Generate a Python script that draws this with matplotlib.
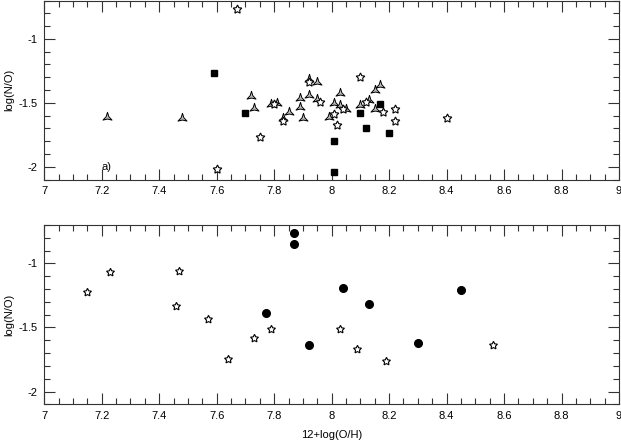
#!/usr/bin/env python
"""Plot log(N/O) versus 12+log(O/H) for two samples."""
import numpy as np
import matplotlib
matplotlib.use("Agg")
import matplotlib.pyplot as plt
from matplotlib.path import Path
from matplotlib.ticker import MultipleLocator

# panel a) data
sq_oh = [7.59, 7.70, 8.01, 8.01, 8.10, 8.12, 8.17, 8.20]
sq_no = [-1.27, -1.58, -1.80, -2.04, -1.58, -1.70, -1.51, -1.74]

star_a_oh = [7.67, 7.60, 7.75, 7.80, 7.83, 7.92, 7.96, 8.01, 8.02, 8.04,
             8.10, 8.12, 8.18, 8.22, 8.22, 8.40]
star_a_no = [-0.77, -2.02, -1.77, -1.51, -1.64, -1.34, -1.49, -1.59, -1.67,
             -1.55, -1.30, -1.49, -1.57, -1.55, -1.64, -1.62]

tri_oh = [7.22, 7.48, 7.72, 7.73, 7.79, 7.81, 7.85, 7.83, 7.89, 7.89, 7.90,
          7.92, 7.95, 7.92, 7.95, 8.01, 7.99, 8.03, 8.03, 8.05, 8.10, 8.13,
          8.15, 8.17, 8.15]
tri_no = [-1.61, -1.62, -1.45, -1.54, -1.51, -1.50, -1.57, -1.62, -1.46,
          -1.53, -1.62, -1.31, -1.34, -1.44, -1.47, -1.50, -1.61, -1.42,
          -1.52, -1.55, -1.52, -1.48, -1.40, -1.36, -1.55]

# panel b) data
circ_oh = [7.87, 7.87, 7.77, 7.92, 8.04, 8.13, 8.30, 8.45]
circ_no = [-0.76, -0.85, -1.39, -1.64, -1.19, -1.32, -1.62, -1.21]

star_b_oh = [7.15, 7.23, 7.47, 7.46, 7.57, 7.64, 7.73, 7.79, 8.03, 8.09,
             8.19, 8.56]
star_b_no = [-1.22, -1.07, -1.06, -1.33, -1.43, -1.75, -1.58, -1.51, -1.51,
             -1.67, -1.76, -1.64]

plt.rcParams['font.family'] = ['Liberation Sans', 'DejaVu Sans']
plt.rcParams['font.size'] = 8

# three-pointed star marker with deep concave sides
ang = np.deg2rad(90 + 60 * np.arange(6))
rad = np.where(np.arange(6) % 2 == 0, 1.0, 0.3)
verts = np.column_stack([rad * np.cos(ang), rad * np.sin(ang)])
verts = np.vstack([verts, verts[:1]])
tri_marker = Path(verts, closed=True)

fig = plt.figure(figsize=(6.21, 4.40), dpi=100)
ax1 = fig.add_axes([0.0712, 0.5920, 0.9256, 0.4068])
ax2 = fig.add_axes([0.0712, 0.0811, 0.9256, 0.4075])


def style(ax):
    ax.set_xlim(7, 9)
    ax.set_ylim(-2.1, -0.7)
    ax.xaxis.set_major_locator(MultipleLocator(0.2))
    ax.xaxis.set_minor_locator(MultipleLocator(0.05))
    ax.yaxis.set_major_locator(MultipleLocator(0.5))
    ax.yaxis.set_minor_locator(MultipleLocator(0.1))
    ax.xaxis.set_major_formatter(plt.FuncFormatter(lambda v, p: "%g" % v))
    ax.yaxis.set_major_formatter(plt.FuncFormatter(lambda v, p: "%g" % v))
    ax.tick_params(which='both', direction='in', top=True, right=True,
                   width=0.8, color='0.2')
    ax.tick_params(which='major', length=8, pad=5)
    ax.tick_params(which='minor', length=4)
    for s in ax.spines.values():
        s.set_linewidth(0.8)
        s.set_color('0.2')
    ax.set_ylabel("log(N/O)", labelpad=3)


style(ax1)
style(ax2)

ax1.plot(tri_oh, tri_no, ls='none', marker=tri_marker, ms=7.5, mfc='0.75',
         mec='black', mew=0.7)
ax1.plot(star_a_oh, star_a_no, ls='none', marker=(5, 1, 0), ms=6.5,
         mfc='white', mec='black', mew=0.8)
ax1.plot(sq_oh, sq_no, ls='none', marker='s', ms=4.5, color='black')
ax1.text(7.2, -2.0, "a)", ha='left', va='center')

ax2.plot(star_b_oh, star_b_no, ls='none', marker=(5, 1, 0), ms=6,
         mfc='white', mec='black', mew=0.8)
ax2.plot(circ_oh, circ_no, ls='none', marker='o', ms=5.5, color='black')
ax2.set_xlabel("12+log(O/H)", labelpad=6)

fig.savefig("out.png", dpi=100)
